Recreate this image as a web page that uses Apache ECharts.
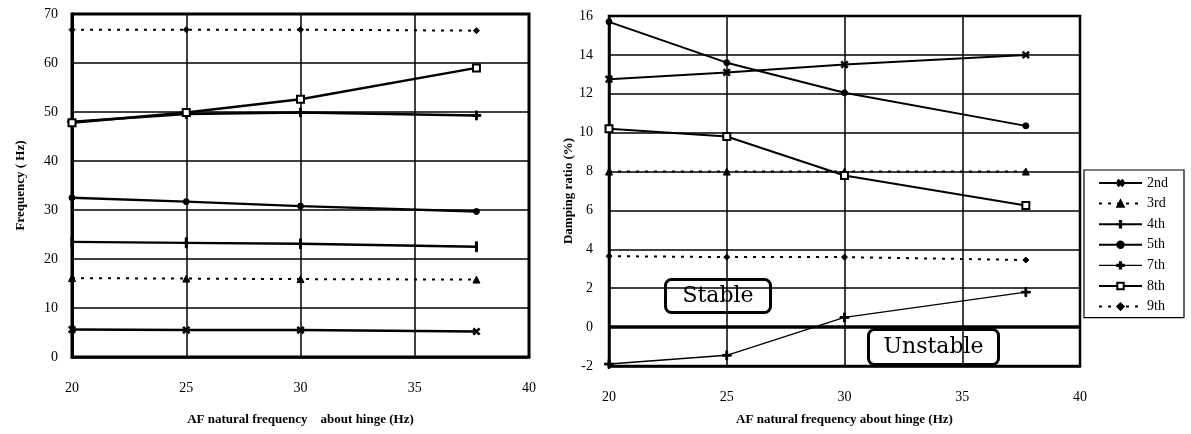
<!DOCTYPE html>
<html>
<head>
<meta charset="utf-8">
<script src="https://cdn.jsdelivr.net/npm/echarts@6/dist/echarts.min.js"></script>
<style>
  html, body { margin: 0; padding: 0; background: #fff; }
  #chart { width: 1191px; height: 434px; }
</style>
</head>
<body>
<div id="chart"></div>
<script>
// AF natural frequency about hinge (Hz)
const hingeFreq = [20, 25, 30, 37.7];

// Modal frequencies (Hz)
const freq2nd = [5.6, 5.5, 5.5, 5.2];
const freq3rd = [16.1, 16.0, 15.9, 15.8];
const freq4th = [23.5, 23.3, 23.1, 22.5];
const freq5th = [32.5, 31.7, 30.8, 29.7];
const freq7th = [48.0, 49.6, 49.9, 49.3];
const freq8th = [47.8, 49.9, 52.6, 59.0];
const freq9th = [66.8, 66.8, 66.8, 66.6];

// Damping ratios (%)
const damp2nd = [12.75, 13.1, 13.5, 14.0];
const damp3rd = [8.0, 8.0, 8.0, 8.0];
const damp5th = [15.7, 13.6, 12.05, 10.35];
const damp7th = [-1.9, -1.45, 0.5, 1.8];
const damp8th = [10.2, 9.8, 7.8, 6.25];
const damp9th = [3.65, 3.6, 3.6, 3.45];

const modeNames = ['2nd', '3rd', '4th', '5th', '7th', '8th', '9th'];
const freqTicks = { min: 0, max: 70, interval: 10 };
const dampTicks = { min: -2, max: 16, interval: 2 };
const hingeTicks = { min: 20, max: 40, interval: 5 };

const FONT = '"Liberation Serif", "DejaVu Serif", serif';
const INK = '#000';

const pair = (ys) => hingeFreq.map((x, i) => [x, ys[i]]);

// marker outlines in a 10x10 box
const SYM = {
  cross: 'path://M4,0H6V4H10V6H6V10H4V6H0V4H4Z',
  // vertical tick, with two hair-thin specks keeping the box square
  bar: 'path://M4,0H6V10H4Z M0,5h0.01v0.01h-0.01Z M10,5h-0.01v0.01h0.01Z'
};

// symbol and line style per mode
const modeStyle = {
  '2nd': { symbol: SYM.cross, symbolRotate: 45, symbolSize: 8, type: 'solid', width: 2.4 },
  '3rd': { symbol: 'triangle', symbolSize: 7, type: [3, 6], width: 2 },
  '4th': { symbol: SYM.bar, symbolSize: 10, type: 'solid', width: 2.4 },
  '5th': { symbol: 'circle', symbolSize: 6, type: 'solid', width: 2.4 },
  '7th': { symbol: SYM.cross, symbolSize: 9, type: 'solid', width: 1.4 },
  '8th': { symbol: 'emptyRect', symbolSize: 7, type: 'solid', width: 2.4 },
  '9th': { symbol: 'diamond', symbolSize: 6, type: [3, 6], width: 2 }
};

function makeSeries(name, values, gridIdx, extra) {
  const st = modeStyle[name];
  return Object.assign({
    name: name,
    type: 'line',
    xAxisIndex: gridIdx,
    yAxisIndex: gridIdx,
    data: pair(values),
    symbol: st.symbol,
    symbolSize: st.symbolSize,
    symbolRotate: st.symbolRotate || 0,
    showAllSymbol: true,
    lineStyle: { color: INK, width: st.width, type: st.type },
    itemStyle: { color: INK, borderColor: INK, borderWidth: 1 },
    emphasis: { disabled: true },
    animation: false,
    z: 5
  }, extra || {});
}

const tickLabel = { color: INK, fontFamily: FONT, fontSize: 14 };
const axisTitle = { color: INK, fontFamily: FONT, fontSize: 13, fontWeight: 'bold' };
const gridLine = { show: true, lineStyle: { color: INK, width: 1.5 } };

const chart = echarts.init(document.getElementById('chart'), null, { renderer: 'canvas' });

chart.setOption({
  backgroundColor: '#fff',
  animation: false,
  grid: [
    { left: 72, top: 14, width: 457, height: 343, show: true, borderColor: INK, borderWidth: 3, backgroundColor: 'transparent' },
    { left: 609, top: 16, width: 471, height: 350, show: true, borderColor: INK, borderWidth: 2.5, backgroundColor: 'transparent' }
  ],
  xAxis: [0, 1].map(g => ({
    type: 'value',
    gridIndex: g,
    min: hingeTicks.min, max: hingeTicks.max, interval: hingeTicks.interval,
    name: g === 0 ? 'AF natural frequency    about hinge (Hz)' : 'AF natural frequency about hinge (Hz)',
    nameLocation: 'middle',
    nameGap: g === 0 ? 56 : 47,
    nameTextStyle: axisTitle,
    axisLine: { show: true, onZero: false, lineStyle: { color: INK, width: 2.5 } },
    axisTick: { show: false },
    axisLabel: Object.assign({ margin: 24 }, tickLabel),
    splitLine: gridLine
  })),
  yAxis: [
    {
      type: 'value', gridIndex: 0,
      min: freqTicks.min, max: freqTicks.max, interval: freqTicks.interval,
      name: 'Frequency ( Hz)', nameLocation: 'middle', nameGap: 45,
      nameTextStyle: axisTitle,
      axisLine: { show: true, lineStyle: { color: INK, width: 3 } },
      axisTick: { show: false },
      axisLabel: Object.assign({ margin: 14 }, tickLabel),
      splitLine: gridLine
    },
    {
      type: 'value', gridIndex: 1,
      min: dampTicks.min, max: dampTicks.max, interval: dampTicks.interval,
      name: 'Damping ratio (%)', nameLocation: 'middle', nameGap: 30,
      nameTextStyle: axisTitle,
      axisLine: { show: true, lineStyle: { color: INK, width: 2.5 } },
      axisTick: { show: false },
      axisLabel: Object.assign({ margin: 16 }, tickLabel),
      splitLine: gridLine
    }
  ],
  legend: {
    data: modeNames.map(n => (n === '7th' ? { name: n, lineStyle: { width: 1.4 } } : { name: n })),
    orient: 'vertical',
    left: 1084, top: 170,
    padding: [5, 16, 3, 14],
    itemWidth: 43, itemHeight: 8, itemGap: 4.6,
    borderColor: INK, borderWidth: 1.2,
    backgroundColor: '#fff',
    textStyle: { color: INK, fontFamily: FONT, fontSize: 14, lineHeight: 16 },
    selectedMode: false
  },
  series: [
    makeSeries('2nd', freq2nd, 0),
    makeSeries('3rd', freq3rd, 0),
    makeSeries('4th', freq4th, 0),
    makeSeries('5th', freq5th, 0),
    makeSeries('7th', freq7th, 0, { lineStyle: { color: INK, width: 2.4, type: 'solid' } }),
    makeSeries('8th', freq8th, 0),
    makeSeries('9th', freq9th, 0),

    makeSeries('2nd', damp2nd, 1, { lineStyle: { color: INK, width: 2, type: 'solid' } }),
    makeSeries('3rd', damp3rd, 1),
    makeSeries('5th', damp5th, 1, { lineStyle: { color: INK, width: 2, type: 'solid' } }),
    makeSeries('7th', damp7th, 1, {
      // stability boundary at zero damping
      markLine: {
        silent: true, symbol: 'none', label: { show: false },
        lineStyle: { color: INK, width: 3.5, type: 'solid' },
        data: [{ yAxis: 0 }],
        animation: false
      }
    }),
    makeSeries('8th', damp8th, 1, { lineStyle: { color: INK, width: 2, type: 'solid' } }),
    makeSeries('9th', damp9th, 1)
  ],
  graphic: [
    {
      type: 'group', left: 664, top: 278, z: 20,
      children: [
        { type: 'rect', shape: { x: 0, y: 0, width: 105, height: 33, r: 6 },
          style: { fill: '#fff', stroke: INK, lineWidth: 3 } },
        { type: 'text', x: 52.5, y: 17, style: { text: 'Stable', fill: INK, font: '22px "DejaVu Serif", serif', align: 'center', verticalAlign: 'middle' } }
      ]
    },
    {
      type: 'group', left: 867, top: 328, z: 20,
      children: [
        { type: 'rect', shape: { x: 0, y: 0, width: 130, height: 35, r: 6 },
          style: { fill: '#fff', stroke: INK, lineWidth: 3 } },
        { type: 'text', x: 65, y: 18, style: { text: 'Unstable', fill: INK, font: '22px "DejaVu Serif", serif', align: 'center', verticalAlign: 'middle' } }
      ]
    }
  ]
});
</script>
</body>
</html>
